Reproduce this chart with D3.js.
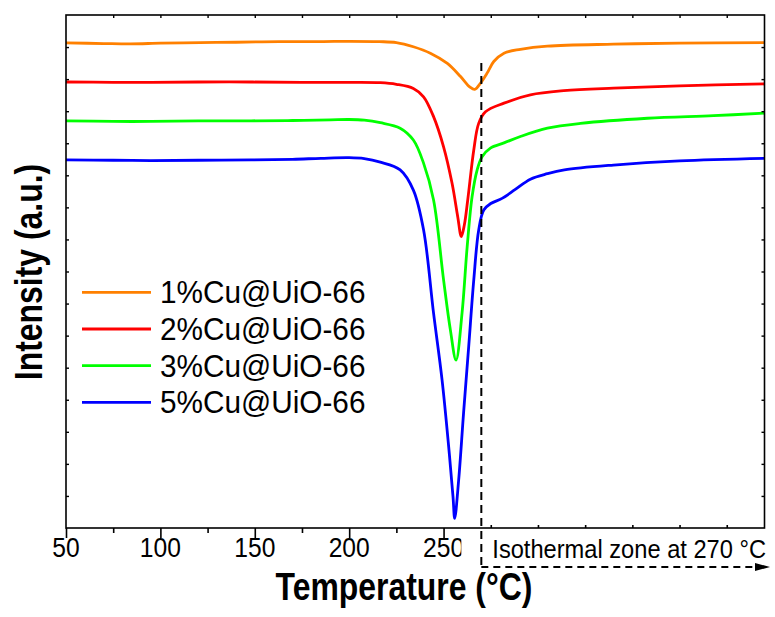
<!DOCTYPE html>
<html><head><meta charset="utf-8">
<script src="https://cdn.jsdelivr.net/npm/d3@7"></script>
<style>body{margin:0;background:#fff}svg{display:block}text{font-family:Arial,"Liberation Sans",sans-serif;fill:#000}</style>
</head><body>
<script>
// ---- data (temperature °C, intensity a.u.) ----
const seriesNames = ["1%Cu@UiO-66","2%Cu@UiO-66","3%Cu@UiO-66","5%Cu@UiO-66"];
const seriesColors = ["#FF8000","#FF0000","#00FF00","#0000FF"];
const cu1 = [[50,15.13],[70,15.11],[84,15.10],[100,15.12],[121,15.14],[140,15.15],[163,15.17],[185,15.17],[200,15.18],[216,15.17],[225,15.14],[234,15.01],[243,14.81],[252,14.49],[259,14.08],[264,13.75],[266.5,13.68],[269.5,13.87],[273,14.18],[276.6,14.55],[282,14.81],[290.7,14.93],[305,15.03],[340,15.09],[375,15.12],[420,15.14]];
const cu2 = [[50,13.91],[75,13.90],[95,13.90],[120,13.91],[148,13.91],[175,13.90],[200,13.90],[216.5,13.89],[225,13.84],[234,13.71],[239.4,13.45],[244.7,12.83],[250,11.89],[254.5,10.75],[257.5,9.71],[259.4,9.09],[261,9.45],[262.8,10.23],[266,11.79],[268.6,12.62],[272.2,12.98],[282,13.25],[296,13.51],[313.7,13.64],[340,13.72],[375,13.79],[420,13.85]];
const cu3 = [[50,12.70],[75,12.68],[95,12.68],[120,12.70],[148,12.70],[170,12.71],[190,12.73],[200,12.74],[208,12.72],[216.5,12.64],[227,12.47],[234,12.10],[239.4,11.38],[244.7,10.23],[250,7.74],[253.6,6.18],[256.6,5.24],[259.8,6.71],[262.5,8.77],[265.1,10.33],[267.8,11.17],[270.4,11.58],[274.8,11.85],[282,12.01],[290.7,12.21],[305,12.47],[322.5,12.62],[358,12.78],[393,12.86],[420,12.94]];
const cu5 = [[50,11.48],[75,11.47],[95,11.46],[120,11.47],[148,11.48],[170,11.50],[185,11.53],[200,11.55],[208,11.52],[216.5,11.41],[227,11.17],[234,10.54],[239.4,9.30],[244.7,6.70],[249.2,4.62],[252.7,2.54],[255,0.98],[255.9,0.30],[258,1.50],[260.6,3.59],[263.3,5.65],[266,7.74],[268.6,9.29],[271.3,9.92],[275,10.12],[281,10.28],[288,10.56],[296,10.88],[305,11.05],[314,11.17],[340,11.32],[375,11.45],[420,11.53]];
const seriesData = [cu1, cu2, cu3, cu5];
const xMajorTicks = [50,100,150,200,250];
const xMinorTicks = [75,125,175,225];
const xIsoTicks = [275,300,325,350,375,400];
const xTopTicks = [75,100,125,150,175,200,225,250,275,300,325,350,375,400];
const yTicks = d3.range(1,16);
const isoTemp = 270;
const isoLabel = "Isothermal zone at 270 \u00B0C";

const W = 775, H = 617;
const M = {left:66, right:10.5, top:15, bottom:89};
const svg = d3.select("body").append("svg").attr("width",W).attr("height",H);
const x = d3.scaleLinear().domain([50,420]).range([M.left, W-M.right]);
const y = d3.scaleLinear().domain([0,16]).range([H-M.bottom, M.top]);
const x0 = x.range()[0], x1 = x.range()[1], y0 = y.range()[0], y1 = y.range()[1];

// curves
const line = d3.line().x(d=>x(d[0])).y(d=>y(d[1])).curve(d3.curveCatmullRom.alpha(0.5));
seriesData.forEach((s,i)=>{
  svg.append("path").attr("d",line(s)).attr("fill","none")
    .attr("stroke",seriesColors[i]).attr("stroke-width",2.8).attr("stroke-linejoin","round");
});

// frame
svg.append("rect").attr("x",x0).attr("y",y1).attr("width",x1-x0).attr("height",y0-y1)
  .attr("fill","none").attr("stroke","#000").attr("stroke-width",1.6);

// bottom axis (outward ticks up to 250)
const gB = svg.append("g").attr("transform",`translate(0,${y0})`);
gB.call(d3.axisBottom(x).tickValues(xMajorTicks).tickSize(10).tickFormat(""));
gB.append("g").call(d3.axisBottom(x).tickValues(xMinorTicks).tickSize(5).tickFormat(""));
gB.append("g").call(d3.axisTop(x).tickValues(xIsoTicks).tickSize(3).tickFormat(""));
gB.selectAll(".domain").remove();
gB.selectAll("line").attr("stroke","#000").attr("stroke-width",1.6);
// top ticks (inward)
const gT = svg.append("g").attr("transform",`translate(0,${y1})`)
  .call(d3.axisBottom(x).tickValues(xTopTicks).tickSize(3).tickFormat(""));
gT.selectAll(".domain").remove(); gT.selectAll("line").attr("stroke","#000").attr("stroke-width",1.4);
// left / right ticks (inward)
const gL = svg.append("g").attr("transform",`translate(${x0},0)`)
  .call(d3.axisRight(y).tickValues(yTicks).tickSize(3).tickFormat(""));
gL.selectAll(".domain").remove(); gL.selectAll("line").attr("stroke","#000").attr("stroke-width",1.4);
const gR = svg.append("g").attr("transform",`translate(${x1},0)`)
  .call(d3.axisLeft(y).tickValues(yTicks).tickSize(3).tickFormat(""));
gR.selectAll(".domain").remove(); gR.selectAll("line").attr("stroke","#000").attr("stroke-width",1.4);

// tick labels
xMajorTicks.forEach(t=>{
  svg.append("text").attr("transform",`translate(${x(t)},${y0+29}) scale(0.88,1)`)
    .attr("text-anchor","middle").attr("font-size",28).text(t);
});

// white box behind isothermal annotation
svg.append("rect").attr("x",x(isoTemp)-20).attr("y",y0+4).attr("width",W-x(isoTemp)+20).attr("height",32).attr("fill","#fff");

// isothermal dashed line + arrow
const xi = x(isoTemp);
svg.append("line").attr("x1",xi).attr("x2",xi).attr("y1",y(14.5)).attr("y2",y0+39)
  .attr("stroke","#000").attr("stroke-width",2).attr("stroke-dasharray","8,5");
svg.append("line").attr("x1",xi).attr("x2",W-18).attr("y1",y0+39).attr("y2",y0+39)
  .attr("stroke","#000").attr("stroke-width",1.8).attr("stroke-dasharray","7,5");
svg.append("path").attr("d",`M${W-20},${y0+35} L${W-5},${y0+39} L${W-20},${y0+43} Z`).attr("fill","#000");
svg.append("text").attr("transform",`translate(${xi+11},${y0+30}) scale(0.91,1)`)
  .attr("font-size",26).text(isoLabel);

// axis titles
svg.append("text").attr("transform",`translate(404,${H-17}) scale(0.84,1)`)
  .attr("text-anchor","middle").attr("font-size",38).attr("font-weight","bold").text("Temperature (\u00B0C)");
svg.append("text").attr("transform",`translate(42,272) rotate(-90) scale(0.84,1)`)
  .attr("text-anchor","middle").attr("font-size",38).attr("font-weight","bold").text("Intensity (a.u.)");

// legend
const legY = [292.3, 329, 365.7, 402.3];
seriesNames.forEach((n,i)=>{
  svg.append("line").attr("x1",82).attr("x2",151).attr("y1",legY[i]).attr("y2",legY[i])
    .attr("stroke",seriesColors[i]).attr("stroke-width",2.8);
  svg.append("text").attr("transform",`translate(160,${legY[i]+11}) scale(0.96,1)`)
    .attr("font-size",31).text(n);
});
</script>
</body></html>
